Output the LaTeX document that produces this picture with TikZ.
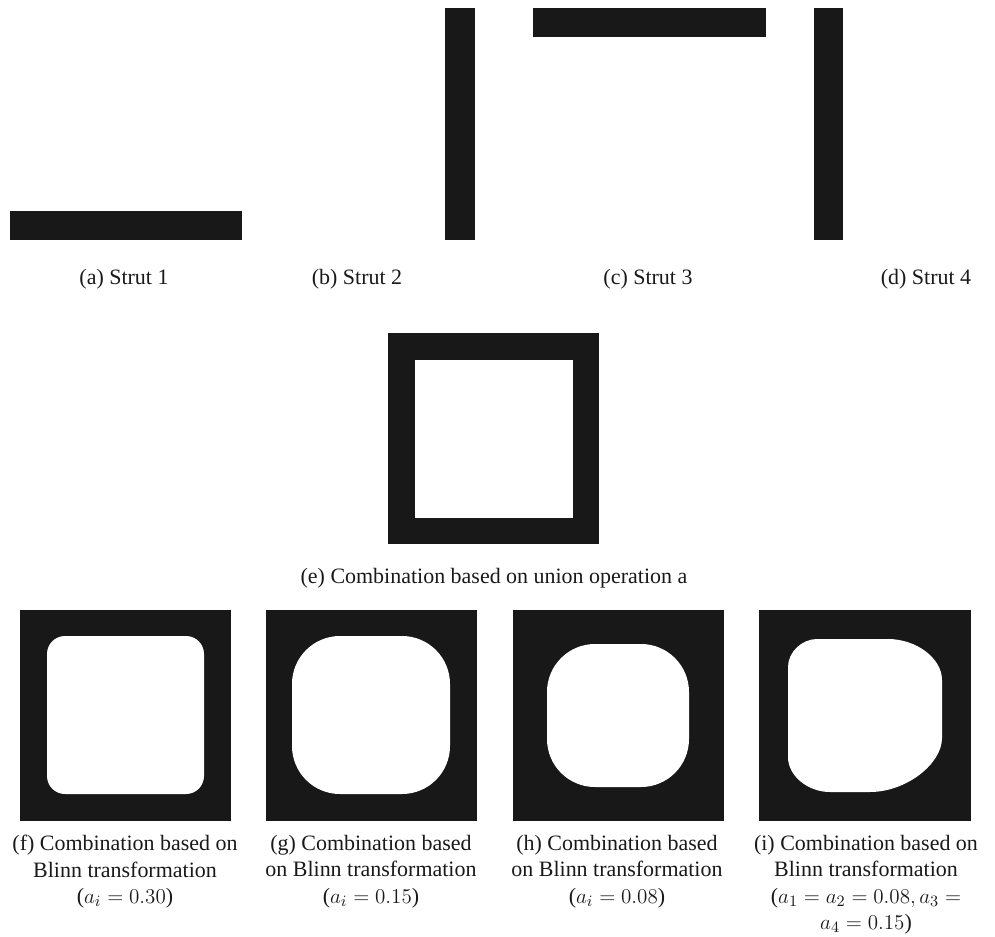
\documentclass[tikz,border=0pt]{standalone}
\usepackage{fontspec}
\setmainfont{Liberation Serif}
\usepackage{xcolor}
\usepackage{tikz}
\definecolor{strutgray}{HTML}{181818}

\begin{document}
\begin{tikzpicture}[x=0.02cm,y=-0.02cm,
		strut/.style={fill=strutgray},
		hole/.style={fill=white},
		legend/.style={align=center, inner sep=0pt, text=black!90, font=\fontsize{12.5}{15}\selectfont}]
				\useasboundingbox (0,0) rectangle (995,937);
				% the four struts
				\fill[strut] (10,211) rectangle (242,240);
				\fill[strut] (445,8) rectangle (475,240);
				\fill[strut] (533,8) rectangle (766,37);
				\fill[strut] (814,8) rectangle (843,240);
				\node[legend, anchor=base] (capA) at (124,284) {(a) Strut 1};
				\node[legend, anchor=base] (capB) at (357,284) {(b) Strut 2};
				\node[legend, anchor=base] (capC) at (648,284) {(c) Strut 3};
				\node[legend, anchor=base] (capD) at (926,284) {(d) Strut 4};

				% union
				\fill[strut] (388,333) rectangle (599,544);
				\fill[hole] (415,360) rectangle (573,518);
				\node[legend, anchor=base] (capE) at (494,583) {(e) Combination based on union operation a};

				% Blinn combinations
				\fill[strut] (20,610) rectangle (231,821);
				\fill[hole, rounded corners=0.36cm] (47,636) rectangle (204,794);
				\fill[strut] (266,610) rectangle (477,821);
				\fill[hole, rounded corners=0.96cm] (292,636) rectangle (450,794);
				\fill[strut] (513,610) rectangle (724,821);
				\fill[hole, rounded corners=0.96cm] (547,644) rectangle (689,787);
				\fill[strut] (759,610) rectangle (971,821);
				\fill[hole] (817,639) -- (888,639)
					.. controls (916,639) and (942,658) .. (942,680) -- (942,738)
					.. controls (942,764) and (906,792) .. (870,792) -- (830,792)
					.. controls (808,792) and (788,776) .. (788,757) -- (788,667)
					.. controls (788,652) and (802,639) .. cycle;
				\node[legend, anchor=north] (capF) at (125,835) {(f) Combination based on\\Blinn transformation\\($a_i = 0.30$)};
				\node[legend, anchor=north] (capG) at (371,835) {(g) Combination based\\on Blinn transformation\\($a_i = 0.15$)};
				\node[legend, anchor=north] (capH) at (617,835) {(h) Combination based\\on Blinn transformation\\($a_i = 0.08$)};
				\node[legend, anchor=north] (capI) at (866,835) {(i) Combination based on\\Blinn transformation\\($a_1 = a_2 = 0.08, a_3 =$\\$a_4 = 0.15$)};

			\end{tikzpicture}
\end{document}
